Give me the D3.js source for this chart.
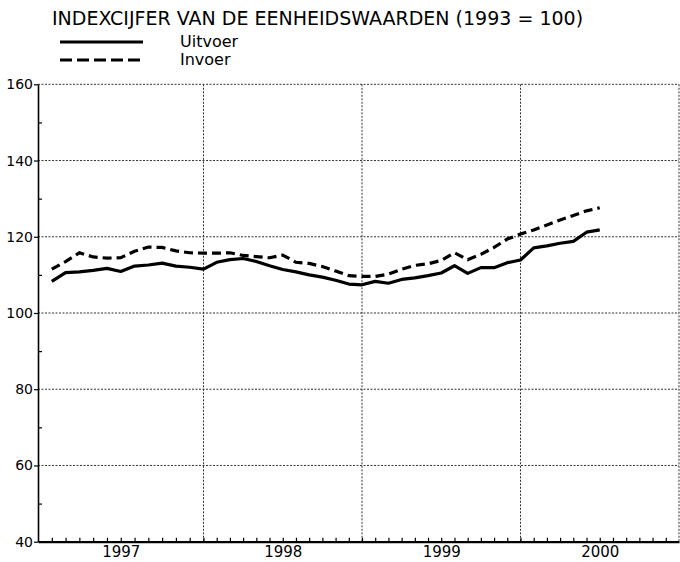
<!DOCTYPE html>
<html>
<head>
<meta charset="utf-8">
<script src="https://cdn.jsdelivr.net/npm/d3@7"></script>
<style>
  html, body { margin: 0; padding: 0; background: #fff; }
  svg { display: block; font-family: "DejaVu Sans", sans-serif; }
</style>
</head>
<body>
<svg id="chart" width="680" height="562"></svg>
<script>
// maanden (waarde geplot aan het eind van de maand)
const months = [
  "1997-01", "1997-02", "1997-03", "1997-04", "1997-05", "1997-06",
  "1997-07", "1997-08", "1997-09", "1997-10", "1997-11", "1997-12",
  "1998-01", "1998-02", "1998-03", "1998-04", "1998-05", "1998-06",
  "1998-07", "1998-08", "1998-09", "1998-10", "1998-11", "1998-12",
  "1999-01", "1999-02", "1999-03", "1999-04", "1999-05", "1999-06",
  "1999-07", "1999-08", "1999-09", "1999-10", "1999-11", "1999-12",
  "2000-01", "2000-02", "2000-03", "2000-04", "2000-05", "2000-06"
];

const uitvoer = [
  108.3, 110.6, 110.8, 111.2, 111.7, 110.9, 112.3, 112.6, 113.1, 112.3, 112.0, 111.5,
  113.3, 114.0, 114.3, 113.5, 112.4, 111.4, 110.8, 110.0, 109.4, 108.6, 107.6, 107.4,
  108.3, 107.8, 108.8, 109.2, 109.8, 110.5, 112.4, 110.4, 111.9, 111.9, 113.2, 113.9,
  117.1, 117.6, 118.3, 118.8, 121.2, 121.8
];

const invoer = [
  111.5, 113.5, 115.8, 114.7, 114.4, 114.5, 116.2, 117.3, 117.2, 116.3, 115.8, 115.7,
  115.7, 115.8, 115.1, 114.8, 114.5, 115.2, 113.3, 113.0, 112.2, 111.0, 109.8, 109.6,
  109.6, 110.2, 111.5, 112.5, 112.9, 113.8, 115.8, 114.0, 115.4, 117.2, 119.4, 120.7,
  121.8, 123.1, 124.4, 125.6, 126.8, 127.6
];

const yTicks = [40, 60, 80, 100, 120, 140, 160];
const yMinor = [50, 70, 90, 110, 130, 150];
const years = [1997, 1998, 1999, 2000];
const yearLabels = ["1997", "1998", "1999", "2000"];

const title = "INDEXCIJFER VAN DE EENHEIDSWAARDEN (1993 = 100)";
const seriesNames = ["Uitvoer", "Invoer"];

const svg = d3.select("#chart");

const toYear = s => {
  const [yy, mm] = s.split("-").map(Number);
  return yy + mm / 12;
};

// scan is iets uitgerekt in 1997, vandaar het extra breekpunt
const x = d3.scaleLinear().domain([1997, 1998, 2001]).range([38, 203.5, 679]);
const y = d3.scaleLinear().domain([40, 160]).range([541.7, 84.3]);

const gridStyle = sel => sel
  .attr("stroke", "#333")
  .attr("stroke-width", 1)
  .attr("stroke-dasharray", "2,1.5");

// horizontale rasterlijnen
svg.append("g")
  .selectAll("line")
  .data(yTicks.filter(d => d > 40))
  .join("line")
  .attr("x1", x(1997))
  .attr("x2", x(2001))
  .attr("y1", d => y(d))
  .attr("y2", d => y(d))
  .call(gridStyle);

// verticale rasterlijnen op de jaargrenzen
svg.append("g")
  .selectAll("line")
  .data([1998, 1999, 2000, 2001])
  .join("line")
  .attr("x1", d => x(d))
  .attr("x2", d => x(d))
  .attr("y1", y(160))
  .attr("y2", y(40))
  .call(gridStyle);

// y-as
const yAxis = svg.append("g")
  .attr("transform", `translate(${x(1997)},0)`)
  .call(d3.axisLeft(y).tickValues(yTicks).tickSize(4).tickSizeOuter(0).tickPadding(1));
yAxis.select(".domain").attr("stroke", "#000").attr("stroke-width", 1.6);
yAxis.selectAll(".tick line").attr("stroke", "#000").attr("stroke-width", 1.2);
yAxis.selectAll("text")
  .attr("font-family", "DejaVu Sans")
  .attr("font-size", 14)
  .attr("fill", "#000");

svg.append("g")
  .attr("transform", `translate(${x(1997)},0)`)
  .call(d3.axisRight(y).tickValues(yMinor).tickSize(4).tickFormat(""))
  .call(g => g.select(".domain").remove())
  .selectAll(".tick line").attr("stroke", "#000").attr("stroke-width", 1.2);

// x-as: maandstreepjes naar binnen
const monthTicks = d3.range(1, 48).map(i => 1997 + i / 12);
const xAxis = svg.append("g")
  .attr("transform", `translate(0,${y(40)})`)
  .call(d3.axisTop(x).tickValues(monthTicks).tickSize(4).tickSizeOuter(0).tickFormat(""));
xAxis.select(".domain").attr("stroke", "#000").attr("stroke-width", 2.2);
xAxis.selectAll(".tick line").attr("stroke", "#000").attr("stroke-width", 1.2);

// jaartallen midden onder elk jaar
svg.append("g")
  .attr("transform", `translate(0,${y(40)})`)
  .call(d3.axisBottom(x).tickValues(years.map(d => d + 0.5)).tickSize(0).tickPadding(5)
    .tickFormat((d, i) => yearLabels[i]))
  .call(g => g.select(".domain").remove())
  .selectAll("text")
  .attr("font-family", "DejaVu Sans")
  .attr("font-size", 15)
  .attr("fill", "#000");

// lijnen
const line = d3.line()
  .x((d, i) => x(toYear(months[i])))
  .y(d => y(d));

svg.append("path")
  .datum(uitvoer)
  .attr("d", line)
  .attr("fill", "none")
  .attr("stroke", "#000")
  .attr("stroke-width", 3.2)
  .attr("stroke-linejoin", "round");

svg.append("path")
  .datum(invoer)
  .attr("d", line)
  .attr("fill", "none")
  .attr("stroke", "#000")
  .attr("stroke-width", 3.2)
  .attr("stroke-dasharray", "9,5");

// titel en legenda
svg.append("text")
  .attr("x", 52)
  .attr("y", 25)
  .attr("font-size", 19)
  .attr("fill", "#000")
  .text(title);

const legend = svg.append("g")
  .selectAll("g")
  .data(seriesNames)
  .join("g")
  .attr("transform", (d, i) => `translate(0,${42 + i * 18})`);

legend.append("line")
  .attr("x1", 60)
  .attr("x2", 143)
  .attr("stroke", "#000")
  .attr("stroke-width", 3)
  .attr("stroke-dasharray", (d, i) => i === 0 ? null : "12,5");

legend.append("text")
  .attr("x", 180)
  .attr("y", 5)
  .attr("font-size", 16)
  .attr("fill", "#000")
  .text(d => d);
</script>
</body>
</html>
